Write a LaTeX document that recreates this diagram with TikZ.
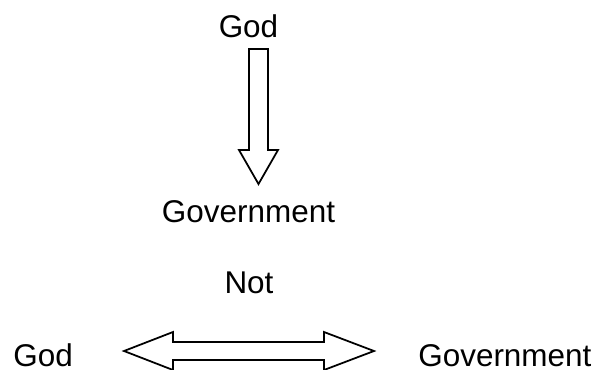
\documentclass[tikz,border=0pt]{standalone}
\usepackage{fontspec}
\setmainfont{Liberation Sans}
\usetikzlibrary{positioning}

\begin{document}
\begin{tikzpicture}[x=0.02cm, y=-0.02cm, word/.style={inner sep=0, font=\fontsize{17.9}{20}\selectfont}, block/.style={draw, line width=1pt, fill=white}]

\useasboundingbox (0, 0) rectangle (595, 369);

\node (god)[word, anchor=base] at (248.5, 37) {God};
\node (gov)[word, anchor=base] at (248.5, 222) {Government};
\node (not)[word, anchor=base] at (249, 293) {Not};
\node (godb)[word, anchor=base west] at (13, 366.5) {God};
\node (govb)[word, anchor=base west] at (418, 366.5) {Government};

% arrow down
\draw[block] (249, 49) -- (268, 49) -- (268, 150) -- (278, 150) -- (258.5, 184)
  -- (239, 150) -- (249, 150) -- cycle;

% arrow both ways
\draw[block] (124, 351) -- (173, 332) -- (173, 342) -- (324, 342) -- (324, 332)
  -- (374, 351) -- (324, 370) -- (324, 360) -- (173, 360) -- (173, 370) -- cycle;
\end{tikzpicture}
\end{document}
